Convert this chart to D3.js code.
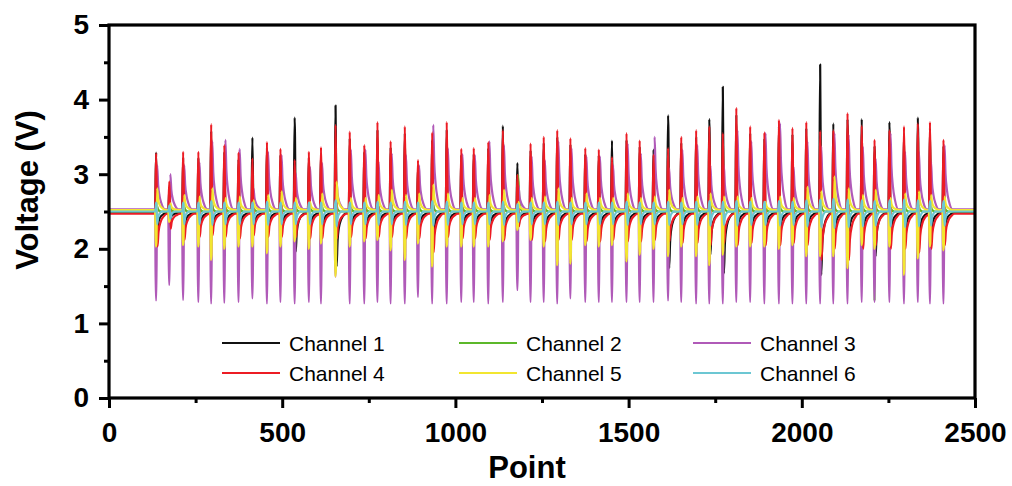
<!DOCTYPE html>
<html>
<head>
<meta charset="utf-8">
<script src="https://cdn.jsdelivr.net/npm/d3@7"></script>
<style>
  html, body { margin: 0; padding: 0; background: #fff; }
  svg { display: block; font-family: "Liberation Sans", Arial, sans-serif; }
</style>
</head>
<body>
<svg id="chart" width="1012" height="486"></svg>
<script>
// ---------------- DATA ----------------
const xTicks = [0, 500, 1000, 1500, 2000, 2500];
const yTicks = [0, 1, 2, 3, 4, 5];
const channelNames = ["Channel 1", "Channel 2", "Channel 3", "Channel 4", "Channel 5", "Channel 6"];
const channelColors = ["#111111", "#5cb82a", "#b05ab8", "#ec1c24", "#f2e630", "#6cc7d3"];
const channelBase = [2.48, 2.50, 2.53, 2.47, 2.52, 2.50];

// positions (point index) of each stimulus spike
const spikePoints = [136, 174, 214, 258, 295, 333, 374, 414, 456, 495, 536, 577, 612, 654, 695, 737, 775, 813, 854, 892,
  933, 975, 1017, 1053, 1095, 1137, 1179, 1217, 1255, 1294, 1332, 1375, 1414, 1452, 1494, 1532, 1572, 1614, 1652, 1695,
  1733, 1772, 1811, 1851, 1892, 1934, 1973, 2013, 2053, 2091, 2132, 2173, 2210, 2253, 2295, 2335, 2370, 2409];

// Channel 1 (black)
const ch1Peak = [3.29, 2.80, 3.22, 3.22, 3.58, 3.30, 3.20, 3.49, 3.35, 3.26, 3.76, 3.22, 3.28, 3.92, 3.48, 3.30, 3.60, 3.36, 3.55, 3.10,
  3.46, 3.60, 3.26, 3.27, 3.35, 3.65, 3.15, 3.32, 3.42, 3.50, 3.40, 3.27, 3.25, 3.45, 3.46, 3.37, 3.33, 3.79, 3.42, 3.50,
  3.74, 4.17, 3.80, 3.55, 3.48, 3.64, 3.54, 3.62, 4.47, 3.68, 3.74, 3.74, 3.38, 3.70, 3.55, 3.76, 3.62, 3.38];
const ch1Trough = [2.20, 2.39, 2.22, 2.22, 2.24, 2.22, 2.22, 2.21, 2.22, 2.22, 1.96, 2.22, 2.22, 1.76, 2.22, 2.22, 2.22, 2.22, 2.22, 2.22,
  2.10, 2.22, 2.22, 2.22, 2.22, 2.15, 2.30, 2.22, 2.20, 2.20, 2.20, 2.20, 2.20, 2.15, 2.20, 2.20, 2.20, 1.74, 2.20, 2.20,
  1.92, 1.67, 2.20, 2.20, 2.20, 2.20, 2.20, 2.20, 1.65, 2.15, 2.10, 2.15, 1.90, 2.10, 2.15, 2.05, 2.15, 2.20];

// Channel 2 (green)
const ch2Peak = [2.58, 2.56, 2.58, 2.58, 2.60, 2.58, 2.58, 2.58, 2.58, 2.58, 2.58, 2.58, 2.58, 2.60, 2.58, 2.58, 2.58, 2.58, 2.58, 2.58,
  2.60, 2.58, 2.58, 2.58, 2.58, 2.58, 2.99, 2.58, 2.58, 2.60, 2.58, 2.58, 2.58, 2.58, 2.60, 2.58, 2.58, 2.58, 2.58, 2.58,
  2.60, 2.60, 2.58, 2.58, 2.58, 2.58, 2.58, 2.60, 2.60, 2.60, 2.60, 2.58, 2.60, 2.58, 2.58, 2.58, 2.58, 2.58];
const ch2Trough = [2.40, 2.42, 2.40, 2.40, 2.40, 2.40, 2.40, 2.40, 2.40, 2.40, 2.40, 2.40, 2.40, 2.40, 2.40, 2.40, 2.40, 2.40, 2.40, 2.40,
  2.40, 2.40, 2.40, 2.40, 2.40, 2.40, 2.14, 2.40, 2.40, 2.40, 2.40, 2.40, 2.40, 2.40, 2.40, 2.40, 2.40, 2.40, 2.40, 2.40,
  2.40, 2.40, 2.40, 2.40, 2.40, 2.40, 2.40, 2.40, 2.40, 2.40, 2.40, 2.40, 1.30, 2.40, 2.40, 2.40, 2.40, 2.40];

// Channel 3 (purple)
const ch3Peak = [3.12, 3.00, 3.12, 3.16, 3.44, 3.46, 3.34, 2.81, 3.30, 3.26, 3.01, 3.10, 3.15, 2.90, 3.33, 3.33, 3.17, 3.28, 3.26, 3.12,
  3.66, 3.35, 3.27, 3.26, 3.44, 3.39, 2.85, 3.24, 3.19, 3.44, 3.35, 3.24, 3.24, 3.12, 3.41, 3.28, 3.50, 3.08, 3.33, 3.39,
  3.12, 3.12, 3.59, 3.44, 3.55, 3.68, 3.10, 3.44, 3.37, 3.55, 3.53, 3.37, 3.21, 3.55, 3.30, 3.30, 3.17, 3.39];
const ch3Trough = [1.31, 1.52, 1.32, 1.29, 1.27, 1.28, 1.29, 1.34, 1.27, 1.29, 1.27, 1.29, 1.27, 1.63, 1.27, 1.27, 1.29, 1.27, 1.27, 1.36,
  1.27, 1.27, 1.29, 1.29, 1.27, 1.29, 1.45, 1.29, 1.29, 1.27, 1.34, 1.29, 1.29, 1.29, 1.29, 1.29, 1.29, 1.31, 1.29, 1.27,
  1.27, 1.27, 1.29, 1.29, 1.27, 1.27, 1.27, 1.27, 1.27, 1.27, 1.27, 1.29, 1.29, 1.29, 1.27, 1.29, 1.27, 1.27];

// Channel 4 (red)
const ch4Peak = [3.28, 2.90, 3.30, 3.30, 3.67, 3.39, 3.29, 3.21, 3.43, 3.34, 3.19, 3.30, 3.36, 3.66, 3.57, 3.39, 3.70, 3.44, 3.64, 3.19,
  3.56, 3.70, 3.34, 3.35, 3.43, 3.59, 2.99, 3.41, 3.50, 3.59, 3.48, 3.35, 3.33, 3.23, 3.55, 3.45, 3.26, 3.35, 3.50, 3.59,
  3.64, 3.55, 3.89, 3.64, 3.56, 3.73, 3.62, 3.70, 3.58, 3.59, 3.82, 3.65, 3.46, 3.59, 3.64, 3.68, 3.70, 3.46];
const ch4Trough = [2.03, 2.27, 2.12, 2.16, 2.18, 2.16, 2.14, 2.18, 2.16, 2.16, 2.16, 2.14, 2.14, 2.14, 2.16, 2.14, 2.16, 2.16, 2.14, 2.14,
  1.95, 2.16, 2.14, 2.14, 2.12, 2.12, 2.30, 2.12, 2.10, 2.12, 2.12, 2.10, 2.10, 2.12, 2.10, 2.10, 2.12, 2.10, 2.08, 2.08,
  2.05, 2.08, 2.05, 2.08, 2.05, 2.05, 2.08, 2.05, 1.85, 2.00, 1.85, 2.00, 2.05, 2.00, 2.00, 1.95, 2.00, 2.05];

// Channel 5 (yellow)
const ch5Peak = [2.81, 2.61, 2.72, 2.70, 2.81, 2.68, 2.70, 2.65, 2.72, 2.77, 2.68, 2.63, 2.74, 2.90, 2.68, 2.68, 2.72, 2.79, 2.72, 2.74,
  2.86, 2.74, 2.68, 2.68, 2.72, 2.79, 2.63, 2.68, 2.70, 2.81, 2.68, 2.74, 2.68, 2.68, 2.74, 2.68, 2.70, 2.79, 2.68, 2.70,
  2.74, 2.70, 2.70, 2.68, 2.63, 2.70, 2.68, 2.83, 2.77, 2.97, 2.81, 2.72, 2.79, 2.68, 2.74, 2.77, 2.72, 2.70];
const ch5Trough = [2.03, 2.36, 2.05, 2.03, 1.85, 2.00, 2.03, 2.03, 1.94, 2.03, 2.10, 2.00, 2.07, 1.63, 2.03, 2.10, 2.12, 1.98, 1.85, 2.07,
  1.76, 2.03, 2.03, 2.03, 2.03, 2.10, 2.25, 2.12, 2.03, 1.78, 1.80, 2.05, 2.03, 2.05, 1.83, 1.92, 2.00, 1.90, 2.03, 1.90,
  1.78, 1.92, 2.03, 2.03, 2.03, 2.00, 2.05, 1.90, 1.90, 1.90, 1.74, 2.05, 2.00, 2.03, 1.65, 1.87, 2.03, 1.98];

// Channel 6 (cyan)
const ch6Peak = [2.62, 2.58, 2.62, 2.62, 2.64, 2.62, 2.62, 2.62, 2.63, 2.62, 2.62, 2.62, 2.62, 2.65, 2.62, 2.62, 2.63, 2.62, 2.63, 2.62,
  2.64, 2.63, 2.62, 2.62, 2.62, 2.63, 2.60, 2.62, 2.62, 2.63, 2.62, 2.62, 2.62, 2.62, 2.63, 2.62, 2.62, 2.63, 2.62, 2.63,
  2.64, 2.63, 2.64, 2.63, 2.63, 2.64, 2.63, 2.65, 2.66, 2.67, 2.66, 2.65, 2.64, 2.65, 2.66, 2.65, 2.64, 2.64];
const ch6Trough = [2.33, 2.40, 2.33, 2.33, 2.32, 2.33, 2.33, 2.33, 2.32, 2.33, 2.33, 2.33, 2.33, 2.30, 2.33, 2.33, 2.32, 2.33, 2.32, 2.33,
  2.31, 2.32, 2.33, 2.33, 2.33, 2.32, 2.36, 2.33, 2.33, 2.32, 2.33, 2.33, 2.33, 2.33, 2.32, 2.33, 2.33, 2.32, 2.33, 2.32,
  2.31, 2.32, 2.31, 2.32, 2.32, 2.31, 2.32, 2.30, 2.29, 2.28, 2.29, 2.30, 2.31, 2.30, 2.29, 2.30, 2.31, 2.31];

// ---------------- LAYOUT ----------------
const plot = { left: 109, right: 975, top: 25, bottom: 398 };
const svg = d3.select("#chart");

const x = d3.scaleLinear().domain([0, 2500]).range([plot.left, plot.right]);
const y = d3.scaleLinear().domain([0, 5]).range([plot.bottom, plot.top]);

// spike waveform shapes: [offset in points, 'P' (toward peak) | 'T' (toward trough), fraction]
const shapes = [
  [[-3,'P',0],[0,'P',1],[2,'P',0.3],[3,'T',1],[6,'T',0.5],[12,'T',0.2],[22,'T',0.05],[32,'T',0]],                 // ch1
  [[-2,'P',0],[0,'T',1],[2,'P',1],[6,'P',0.3],[14,'P',0]],                                                         // ch2
  [[-3,'T',0],[-1,'T',1],[1,'T',1],[3,'P',1],[6,'P',0.55],[10,'P',0.3],[16,'P',0.12],[26,'P',0]],                  // ch3
  [[-3,'P',0],[0,'P',1],[2,'P',0.35],[4,'T',1],[7,'T',0.55],[13,'T',0.25],[22,'T',0.08],[32,'T',0]],               // ch4
  [[-3,'T',0],[-1,'T',1],[1,'T',0.9],[3,'P',1],[6,'P',0.5],[10,'P',0.25],[18,'P',0.08],[28,'P',0]],                // ch5
  [[-3,'P',0],[0,'P',1],[1,'P',0.9],[3,'T',1],[6,'T',0.45],[11,'T',0.12],[18,'T',0]]                               // ch6
];
const peaks = [ch1Peak, ch2Peak, ch3Peak, ch4Peak, ch5Peak, ch6Peak];
const troughs = [ch1Trough, ch2Trough, ch3Trough, ch4Trough, ch5Trough, ch6Trough];

function buildSeries(ci) {
  const b = channelBase[ci];
  const pts = [[0, b]];
  spikePoints.forEach((t, i) => {
    const P = peaks[ci][i], T = troughs[ci][i];
    shapes[ci].forEach(([dx, k, f]) => {
      const v = k === 'P' ? b + f * (P - b) : b - f * (b - T);
      pts.push([t + dx, v]);
    });
  });
  pts.push([2500, b]);
  return pts;
}

const line = d3.line().x(d => x(d[0])).y(d => y(d[1])).curve(d3.curveMonotoneX);

svg.append("defs").append("clipPath").attr("id", "clip")
  .append("rect").attr("x", plot.left).attr("y", plot.top)
  .attr("width", plot.right - plot.left).attr("height", plot.bottom - plot.top);

const gLines = svg.append("g").attr("clip-path", "url(#clip)");
channelNames.forEach((name, ci) => {
  gLines.append("path")
    .datum(buildSeries(ci))
    .attr("fill", "none")
    .attr("stroke", channelColors[ci])
    .attr("stroke-width", 2.2)
    .attr("stroke-linejoin", "round")
    .attr("d", line);
});

// ---------------- AXES ----------------
const tickFont = "bold 28px 'Liberation Sans', Arial, sans-serif";

// minor ticks
svg.append("g").attr("transform", `translate(0,${plot.bottom})`)
  .call(d3.axisBottom(x).tickValues(d3.range(250, 2500, 500)).tickSize(5).tickFormat(""))
  .call(g => g.select(".domain").remove())
  .call(g => g.selectAll("line").attr("stroke", "#000").attr("stroke-width", 3));
svg.append("g").attr("transform", `translate(${plot.left},0)`)
  .call(d3.axisLeft(y).tickValues(d3.range(0.5, 5, 1)).tickSize(5).tickFormat(""))
  .call(g => g.select(".domain").remove())
  .call(g => g.selectAll("line").attr("stroke", "#000").attr("stroke-width", 3));

// major ticks
svg.append("g").attr("transform", `translate(0,${plot.bottom})`)
  .call(d3.axisBottom(x).tickValues(xTicks).tickSize(10).tickPadding(14).tickFormat(d3.format("d")))
  .call(g => g.select(".domain").remove())
  .call(g => g.selectAll("line").attr("stroke", "#000").attr("stroke-width", 3))
  .call(g => g.selectAll("text").style("font", tickFont).attr("fill", "#000"));
svg.append("g").attr("transform", `translate(${plot.left},0)`)
  .call(d3.axisLeft(y).tickValues(yTicks).tickSize(10).tickPadding(10).tickFormat(d3.format("d")))
  .call(g => g.select(".domain").remove())
  .call(g => g.selectAll("line").attr("stroke", "#000").attr("stroke-width", 3))
  .call(g => g.selectAll("text").style("font", tickFont).attr("fill", "#000"));

// frame
svg.append("rect")
  .attr("x", plot.left).attr("y", plot.top)
  .attr("width", plot.right - plot.left).attr("height", plot.bottom - plot.top)
  .attr("fill", "none").attr("stroke", "#000").attr("stroke-width", 3.2);

// axis titles
svg.append("text")
  .attr("x", 527).attr("y", 478)
  .attr("text-anchor", "middle")
  .style("font", "bold 31px 'Liberation Sans', Arial, sans-serif")
  .text("Point");
svg.append("text")
  .attr("transform", "translate(38,190) rotate(-90)")
  .attr("text-anchor", "middle")
  .style("font", "bold 31px 'Liberation Sans', Arial, sans-serif")
  .text("Voltage (V)");

// ---------------- LEGEND ----------------
const legCols = [222, 459, 693];
const legRows = [343, 373];
const legend = svg.append("g");
channelNames.forEach((name, i) => {
  const cx = legCols[i % 3], cy = legRows[Math.floor(i / 3)];
  legend.append("line")
    .attr("x1", cx).attr("x2", cx + 58).attr("y1", cy).attr("y2", cy)
    .attr("stroke", channelColors[i]).attr("stroke-width", 2.2);
  legend.append("text")
    .attr("x", cx + 67).attr("y", cy).attr("dy", "0.36em")
    .style("font", "21px 'Liberation Sans', Arial, sans-serif")
    .attr("fill", "#000")
    .text(name);
});
</script>
</body>
</html>
